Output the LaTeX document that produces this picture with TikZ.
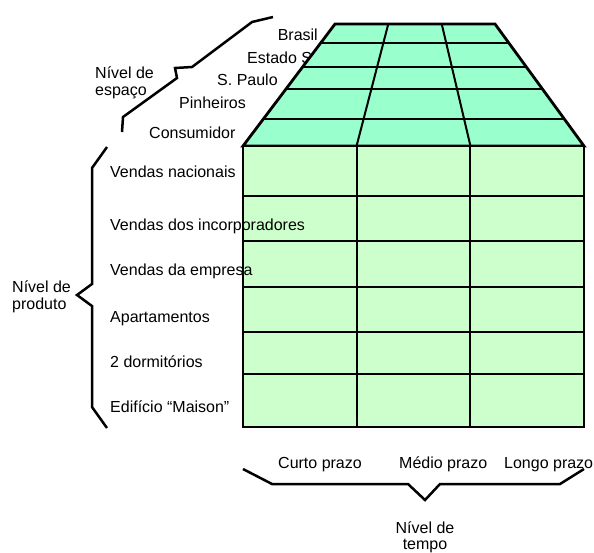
\documentclass[tikz,border=0pt]{standalone}
\usepackage{fontspec}
\setmainfont{Liberation Sans}
\usetikzlibrary{calc}
\definecolor{topfill}{HTML}{99FFCC}
\definecolor{frontfill}{HTML}{CCFFCC}
\begin{document}
\begin{tikzpicture}[x=1pt,y=-1pt,
  lbl/.style={font=\fontsize{16}{17}\selectfont, inner sep=0pt, text=black},
  gridline/.style={line width=2pt},
  outline/.style={line width=2.8pt, line join=miter},
  bracket/.style={line width=2.5pt, line join=miter}]
\useasboundingbox (0,0) rectangle (594,552);
% top labels (drawn before the top face so that it covers them)
\node[lbl, anchor=base east] (brasil) at (318,40) {Brasil};
\node[lbl, anchor=base west] (estado) at (247,63) {Estado SP};
\node[lbl, anchor=base west] (spaulo) at (217,85) {S. Paulo};
\node[lbl, anchor=base west] (pinh) at (179,108) {Pinheiros};
\node[lbl, anchor=base west] (cons) at (149,138) {Consumidor};
\node[lbl, anchor=base west] (esp1) at (95,78) {Nível de};
\node[lbl, anchor=base west] (esp2) at (95,95) {espaço};
% top face
\coordinate (tl) at (335,24);
\coordinate (tr) at (495,24);
\coordinate (br) at (584,146);
\coordinate (bl) at (243,146);
\fill[topfill] (tl) -- (tr) -- (br) -- (bl) -- cycle;
\foreach \t in {0.156,0.352,0.533,0.779}
  \draw[gridline] ($(tl)!\t!(bl)$) -- ($(tr)!\t!(br)$);
\foreach \t in {0.333,0.667}
  \draw[gridline] ($(tl)!\t!(tr)$) -- ($(bl)!\t!(br)$);
\draw[outline] (tl) -- (tr) -- (br) -- (bl) -- cycle;
% front face
\coordinate (fl) at (243,427);
\coordinate (fr) at (584,427);
\fill[frontfill] (bl) rectangle (fr);
\foreach \yy in {196,241,287,332,374}
  \draw[gridline] (243,\yy) -- (584,\yy);
\foreach \t in {0.333,0.667}
  \draw[gridline] ($(bl)!\t!(br)$) -- ($(fl)!\t!(fr)$);
\draw[outline] (bl) rectangle (fr);
% product labels
\node[lbl, anchor=base west] (p1) at (110,177) {Vendas nacionais};
\node[lbl, anchor=base west] (p2) at (110,230) {Vendas dos incorporadores};
\node[lbl, anchor=base west] (p3) at (110,275) {Vendas da empresa};
\node[lbl, anchor=base west] (p4) at (110,322) {Apartamentos};
\node[lbl, anchor=base west] (p5) at (110,367) {2 dormitórios};
\node[lbl, anchor=base west] (p6) at (110,412) {Edifício “Maison”};
\node[lbl, anchor=base west] (prod1) at (12,292) {Nível de};
\node[lbl, anchor=base west] (prod2) at (12,309) {produto};
% time labels
\node[lbl, anchor=base west] (t1) at (278,468) {Curto prazo};
\node[lbl, anchor=base west] (t2) at (399,468) {Médio prazo};
\node[lbl, anchor=base west] (t3) at (504,468) {Longo prazo};
\node[lbl, anchor=base] (tempo1) at (425,533) {Nível de};
\node[lbl, anchor=base] (tempo2) at (425,549) {tempo};
% brackets
\draw[bracket] (273,17) -- (252,22) -- (192,67) -- (175,68) -- (177,78) -- (123,117) -- (122,132);
\draw[bracket] (107,147) -- (92,168) -- (92,284) -- (77,295) -- (92,306) -- (92,407) -- (107,428);
\draw[bracket] (243,469) -- (272,484) -- (408,484) -- (425,500) -- (440,484) -- (560,484) -- (584,469);
\end{tikzpicture}
\end{document}
